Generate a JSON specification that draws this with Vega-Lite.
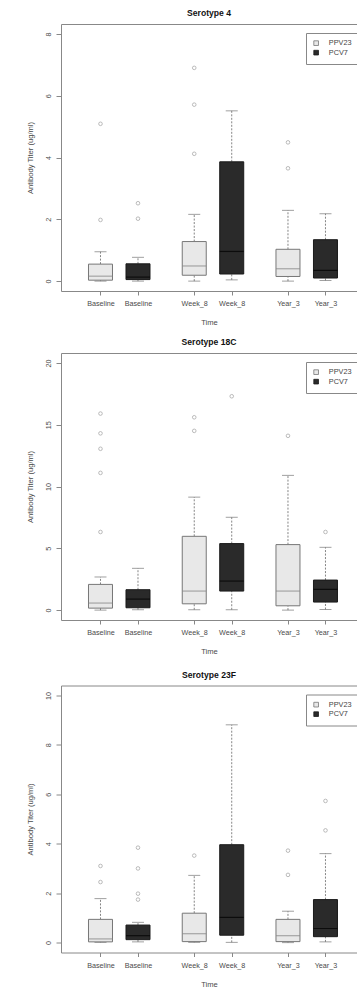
{
  "$schema": "https://vega.github.io/schema/vega-lite/v6.json",
  "padding": {"left": 26, "top": 9, "right": 0, "bottom": 0},
  "autosize": {"type": "pad"},
  "spacing": 11,
  "datasets": {
    "boxes": [
      {"Serotype": "4", "Time": "Baseline", "Vaccine": "PPV23", "Min": 0, "Q1": 0.03, "Median": 0.16, "Q3": 0.55, "Max": 0.95},
      {"Serotype": "4", "Time": "Baseline", "Vaccine": "PCV7", "Min": 0, "Q1": 0.05, "Median": 0.13, "Q3": 0.56, "Max": 0.77},
      {"Serotype": "4", "Time": "Week_8", "Vaccine": "PPV23", "Min": 0, "Q1": 0.19, "Median": 0.49, "Q3": 1.28, "Max": 2.16},
      {"Serotype": "4", "Time": "Week_8", "Vaccine": "PCV7", "Min": 0.04, "Q1": 0.23, "Median": 0.96, "Q3": 3.86, "Max": 5.51},
      {"Serotype": "4", "Time": "Year_3", "Vaccine": "PPV23", "Min": 0, "Q1": 0.15, "Median": 0.4, "Q3": 1.03, "Max": 2.29},
      {"Serotype": "4", "Time": "Year_3", "Vaccine": "PCV7", "Min": 0.02, "Q1": 0.1, "Median": 0.35, "Q3": 1.34, "Max": 2.18},
      {"Serotype": "18C", "Time": "Baseline", "Vaccine": "PPV23", "Min": 0, "Q1": 0.16, "Median": 0.57, "Q3": 2.08, "Max": 2.68},
      {"Serotype": "18C", "Time": "Baseline", "Vaccine": "PCV7", "Min": 0.03, "Q1": 0.19, "Median": 0.89, "Q3": 1.65, "Max": 3.38},
      {"Serotype": "18C", "Time": "Week_8", "Vaccine": "PPV23", "Min": 0.03, "Q1": 0.51, "Median": 1.54, "Q3": 5.97, "Max": 9.14},
      {"Serotype": "18C", "Time": "Week_8", "Vaccine": "PCV7", "Min": 0.03, "Q1": 1.54, "Median": 2.35, "Q3": 5.38, "Max": 7.51},
      {"Serotype": "18C", "Time": "Year_3", "Vaccine": "PPV23", "Min": 0, "Q1": 0.35, "Median": 1.54, "Q3": 5.3, "Max": 10.9},
      {"Serotype": "18C", "Time": "Year_3", "Vaccine": "PCV7", "Min": 0.05, "Q1": 0.65, "Median": 1.68, "Q3": 2.43, "Max": 5.08},
      {"Serotype": "23F", "Time": "Baseline", "Vaccine": "PPV23", "Min": 0.01, "Q1": 0.03, "Median": 0.15, "Q3": 0.94, "Max": 1.78},
      {"Serotype": "23F", "Time": "Baseline", "Vaccine": "PCV7", "Min": 0.03, "Q1": 0.12, "Median": 0.28, "Q3": 0.71, "Max": 0.82},
      {"Serotype": "23F", "Time": "Week_8", "Vaccine": "PPV23", "Min": 0.01, "Q1": 0.04, "Median": 0.36, "Q3": 1.19, "Max": 2.72},
      {"Serotype": "23F", "Time": "Week_8", "Vaccine": "PCV7", "Min": 0.01, "Q1": 0.3, "Median": 1.02, "Q3": 3.96, "Max": 8.81},
      {"Serotype": "23F", "Time": "Year_3", "Vaccine": "PPV23", "Min": 0, "Q1": 0.04, "Median": 0.28, "Q3": 0.94, "Max": 1.27},
      {"Serotype": "23F", "Time": "Year_3", "Vaccine": "PCV7", "Min": 0.03, "Q1": 0.24, "Median": 0.57, "Q3": 1.74, "Max": 3.6}
    ],
    "outliers": [
      {"Serotype": "4", "Time": "Baseline", "Vaccine": "PPV23", "Titer": 1.98},
      {"Serotype": "4", "Time": "Baseline", "Vaccine": "PPV23", "Titer": 5.09},
      {"Serotype": "4", "Time": "Baseline", "Vaccine": "PCV7", "Titer": 2.02},
      {"Serotype": "4", "Time": "Baseline", "Vaccine": "PCV7", "Titer": 2.52},
      {"Serotype": "4", "Time": "Week_8", "Vaccine": "PPV23", "Titer": 4.12},
      {"Serotype": "4", "Time": "Week_8", "Vaccine": "PPV23", "Titer": 5.71},
      {"Serotype": "4", "Time": "Week_8", "Vaccine": "PPV23", "Titer": 6.9},
      {"Serotype": "4", "Time": "Year_3", "Vaccine": "PPV23", "Titer": 3.65},
      {"Serotype": "4", "Time": "Year_3", "Vaccine": "PPV23", "Titer": 4.49},
      {"Serotype": "18C", "Time": "Baseline", "Vaccine": "PPV23", "Titer": 6.32},
      {"Serotype": "18C", "Time": "Baseline", "Vaccine": "PPV23", "Titer": 11.1},
      {"Serotype": "18C", "Time": "Baseline", "Vaccine": "PPV23", "Titer": 13.05},
      {"Serotype": "18C", "Time": "Baseline", "Vaccine": "PPV23", "Titer": 14.3},
      {"Serotype": "18C", "Time": "Baseline", "Vaccine": "PPV23", "Titer": 15.9},
      {"Serotype": "18C", "Time": "Week_8", "Vaccine": "PPV23", "Titer": 14.5},
      {"Serotype": "18C", "Time": "Week_8", "Vaccine": "PPV23", "Titer": 15.6},
      {"Serotype": "18C", "Time": "Week_8", "Vaccine": "PCV7", "Titer": 17.3},
      {"Serotype": "18C", "Time": "Year_3", "Vaccine": "PPV23", "Titer": 14.1},
      {"Serotype": "18C", "Time": "Year_3", "Vaccine": "PCV7", "Titer": 6.32},
      {"Serotype": "23F", "Time": "Baseline", "Vaccine": "PPV23", "Titer": 2.45},
      {"Serotype": "23F", "Time": "Baseline", "Vaccine": "PPV23", "Titer": 3.1},
      {"Serotype": "23F", "Time": "Baseline", "Vaccine": "PCV7", "Titer": 1.74},
      {"Serotype": "23F", "Time": "Baseline", "Vaccine": "PCV7", "Titer": 1.98},
      {"Serotype": "23F", "Time": "Baseline", "Vaccine": "PCV7", "Titer": 3.0},
      {"Serotype": "23F", "Time": "Baseline", "Vaccine": "PCV7", "Titer": 3.84},
      {"Serotype": "23F", "Time": "Week_8", "Vaccine": "PPV23", "Titer": 3.52},
      {"Serotype": "23F", "Time": "Year_3", "Vaccine": "PPV23", "Titer": 2.74},
      {"Serotype": "23F", "Time": "Year_3", "Vaccine": "PPV23", "Titer": 3.72},
      {"Serotype": "23F", "Time": "Year_3", "Vaccine": "PCV7", "Titer": 4.54},
      {"Serotype": "23F", "Time": "Year_3", "Vaccine": "PCV7", "Titer": 5.73}
    ]
  },
  "vconcat": [
    {
      "title": "Serotype 4",
      "width": 296, "height": 267,
      "data": {"name": "boxes"},
      "transform": [{"filter": "datum.Serotype === '4'"}],
      "resolve": {"axis": {"x": "independent"}},
      "layer": [
        {"mark": {"type": "rule", "color": "#777", "strokeDash": [2, 1.5], "strokeWidth": 0.9},
         "encoding": {
           "x": {"field": "Time", "type": "nominal", "scale": {"domain": ["Baseline", "Week_8", "Year_3"], "paddingInner": 0, "paddingOuter": 0.0787, "align": 0.77}, "axis": {"orient": "bottom", "title": "Time", "tickOffset": -18.75, "labelAngle": 0, "tickSize": 4, "labelPadding": 4.5, "titlePadding": 12, "domain": true}},
           "xOffset": {"field": "Vaccine", "type": "nominal", "scale": {"domain": ["PPV23", "PCV7"], "paddingInner": 0, "paddingOuter": 0.25}},
           "y": {"field": "Q3", "type": "quantitative", "scale": {"domain": [-0.32, 8.32], "nice": false, "zero": false}, "axis": {"title": "Antibody Titer (ug/ml)", "values": [0, 2, 4, 6, 8], "labelAngle": 270, "labelAlign": "center", "labelBaseline": "bottom", "tickSize": 5, "labelPadding": 4, "titlePadding": 10}},
           "y2": {"field": "Max"}}},
        {"mark": {"type": "rule", "color": "#777", "strokeDash": [2, 1.5], "strokeWidth": 0.9},
         "encoding": {
           "x": {"field": "Time", "type": "nominal", "scale": {"domain": ["Baseline", "Week_8", "Year_3"], "paddingInner": 0, "paddingOuter": 0.0787, "align": 0.77}, "axis": {"orient": "bottom", "title": null, "tickOffset": 18.75, "labelAngle": 0, "tickSize": 4, "labelPadding": 4.5, "domain": false}},
           "xOffset": {"field": "Vaccine", "type": "nominal", "scale": {"domain": ["PPV23", "PCV7"], "paddingInner": 0, "paddingOuter": 0.25}},
           "y": {"field": "Min", "type": "quantitative", "scale": {"domain": [-0.32, 8.32], "nice": false, "zero": false}, "axis": {"title": "Antibody Titer (ug/ml)", "values": [0, 2, 4, 6, 8], "labelAngle": 270, "labelAlign": "center", "labelBaseline": "bottom", "tickSize": 5, "labelPadding": 4, "titlePadding": 10}},
           "y2": {"field": "Q1"}}},
        {"mark": {"type": "tick", "orient": "horizontal", "size": 12, "thickness": 1, "color": "#777"},
         "encoding": {
           "x": {"field": "Time", "type": "nominal", "scale": {"domain": ["Baseline", "Week_8", "Year_3"], "paddingInner": 0, "paddingOuter": 0.0787, "align": 0.77}, "axis": {"orient": "top", "title": null, "labels": false, "ticks": false, "domain": true}},
           "xOffset": {"field": "Vaccine", "type": "nominal", "scale": {"domain": ["PPV23", "PCV7"], "paddingInner": 0, "paddingOuter": 0.25}},
           "y": {"field": "Max", "type": "quantitative", "scale": {"domain": [-0.32, 8.32], "nice": false, "zero": false}, "axis": {"title": "Antibody Titer (ug/ml)", "values": [0, 2, 4, 6, 8], "labelAngle": 270, "labelAlign": "center", "labelBaseline": "bottom", "tickSize": 5, "labelPadding": 4, "titlePadding": 10}}}},
        {"mark": {"type": "tick", "orient": "horizontal", "size": 12, "thickness": 1, "color": "#777"},
         "encoding": {
           "x": {"field": "Time", "type": "nominal", "scale": {"domain": ["Baseline", "Week_8", "Year_3"], "paddingInner": 0, "paddingOuter": 0.0787, "align": 0.77}, "axis": null},
           "xOffset": {"field": "Vaccine", "type": "nominal", "scale": {"domain": ["PPV23", "PCV7"], "paddingInner": 0, "paddingOuter": 0.25}},
           "y": {"field": "Min", "type": "quantitative", "scale": {"domain": [-0.32, 8.32], "nice": false, "zero": false}, "axis": {"title": "Antibody Titer (ug/ml)", "values": [0, 2, 4, 6, 8], "labelAngle": 270, "labelAlign": "center", "labelBaseline": "bottom", "tickSize": 5, "labelPadding": 4, "titlePadding": 10}}}},
        {"mark": {"type": "bar", "width": 24, "strokeWidth": 1},
         "encoding": {
           "x": {"field": "Time", "type": "nominal", "scale": {"domain": ["Baseline", "Week_8", "Year_3"], "paddingInner": 0, "paddingOuter": 0.0787, "align": 0.77}, "axis": null},
           "xOffset": {"field": "Vaccine", "type": "nominal", "scale": {"domain": ["PPV23", "PCV7"], "paddingInner": 0, "paddingOuter": 0.25}},
           "y": {"field": "Q1", "type": "quantitative", "scale": {"domain": [-0.32, 8.32], "nice": false, "zero": false}, "axis": {"title": "Antibody Titer (ug/ml)", "values": [0, 2, 4, 6, 8], "labelAngle": 270, "labelAlign": "center", "labelBaseline": "bottom", "tickSize": 5, "labelPadding": 4, "titlePadding": 10}},
           "y2": {"field": "Q3"},
           "fill": {"field": "Vaccine", "type": "nominal", "scale": {"domain": ["PPV23", "PCV7"], "range": ["#e8e8e8", "#2a2a2a"]}, "legend": {"title": null, "orient": "none", "legendX": 245, "legendY": 9, "symbolType": "square", "symbolSize": 22, "symbolStrokeColor": "#444", "symbolStrokeWidth": 0.8, "labelFontSize": 7.3, "labelColor": "#444", "labelOffset": 9, "padding": 6.5, "rowPadding": 0.5, "strokeColor": "#888", "fillColor": "white"}},
           "stroke": {"field": "Vaccine", "type": "nominal", "scale": {"domain": ["PPV23", "PCV7"], "range": ["#777", "#1a1a1a"]}, "legend": null}}},
        {"mark": {"type": "tick", "orient": "horizontal", "size": 24, "thickness": 1.2},
         "encoding": {
           "x": {"field": "Time", "type": "nominal", "scale": {"domain": ["Baseline", "Week_8", "Year_3"], "paddingInner": 0, "paddingOuter": 0.0787, "align": 0.77}, "axis": null},
           "xOffset": {"field": "Vaccine", "type": "nominal", "scale": {"domain": ["PPV23", "PCV7"], "paddingInner": 0, "paddingOuter": 0.25}},
           "y": {"field": "Median", "type": "quantitative", "scale": {"domain": [-0.32, 8.32], "nice": false, "zero": false}, "axis": {"title": "Antibody Titer (ug/ml)", "values": [0, 2, 4, 6, 8], "labelAngle": 270, "labelAlign": "center", "labelBaseline": "bottom", "tickSize": 5, "labelPadding": 4, "titlePadding": 10}},
           "color": {"field": "Vaccine", "type": "nominal", "scale": {"domain": ["PPV23", "PCV7"], "range": ["#888", "#000"]}, "legend": null}}},
        {"data": {"name": "outliers"},
         "transform": [{"filter": "datum.Serotype === '4'"}],
         "mark": {"type": "point", "shape": "circle", "filled": false, "size": 13, "strokeWidth": 0.8, "color": "#888"},
         "encoding": {
           "x": {"field": "Time", "type": "nominal", "scale": {"domain": ["Baseline", "Week_8", "Year_3"], "paddingInner": 0, "paddingOuter": 0.0787, "align": 0.77}, "axis": null},
           "xOffset": {"field": "Vaccine", "type": "nominal", "scale": {"domain": ["PPV23", "PCV7"], "paddingInner": 0, "paddingOuter": 0.25}},
           "y": {"field": "Titer", "type": "quantitative", "scale": {"domain": [-0.32, 8.32], "nice": false, "zero": false}, "axis": {"title": "Antibody Titer (ug/ml)", "values": [0, 2, 4, 6, 8], "labelAngle": 270, "labelAlign": "center", "labelBaseline": "bottom", "tickSize": 5, "labelPadding": 4, "titlePadding": 10}}}}
      ]
    },
    {
      "spacing": 14.5,
      "resolve": {"scale": {"y": "independent", "fill": "independent", "stroke": "independent", "color": "independent"}, "legend": {"fill": "independent"}},
      "vconcat": [
    {
      "title": "Serotype 18C",
      "width": 296, "height": 267,
      "data": {"name": "boxes"},
      "transform": [{"filter": "datum.Serotype === '18C'"}],
      "resolve": {"axis": {"x": "independent"}},
      "layer": [
        {"mark": {"type": "rule", "color": "#777", "strokeDash": [2, 1.5], "strokeWidth": 0.9},
         "encoding": {
           "x": {"field": "Time", "type": "nominal", "scale": {"domain": ["Baseline", "Week_8", "Year_3"], "paddingInner": 0, "paddingOuter": 0.0787, "align": 0.77}, "axis": {"orient": "bottom", "title": "Time", "tickOffset": -18.75, "labelAngle": 0, "tickSize": 4, "labelPadding": 4.5, "titlePadding": 12, "domain": true}},
           "xOffset": {"field": "Vaccine", "type": "nominal", "scale": {"domain": ["PPV23", "PCV7"], "paddingInner": 0, "paddingOuter": 0.25}},
           "y": {"field": "Q3", "type": "quantitative", "scale": {"domain": [-0.8, 20.8], "nice": false, "zero": false}, "axis": {"title": "Antibody Titer (ug/ml)", "values": [0, 5, 10, 15, 20], "labelAngle": 270, "labelAlign": "center", "labelBaseline": "bottom", "tickSize": 5, "labelPadding": 4, "titlePadding": 10}},
           "y2": {"field": "Max"}}},
        {"mark": {"type": "rule", "color": "#777", "strokeDash": [2, 1.5], "strokeWidth": 0.9},
         "encoding": {
           "x": {"field": "Time", "type": "nominal", "scale": {"domain": ["Baseline", "Week_8", "Year_3"], "paddingInner": 0, "paddingOuter": 0.0787, "align": 0.77}, "axis": {"orient": "bottom", "title": null, "tickOffset": 18.75, "labelAngle": 0, "tickSize": 4, "labelPadding": 4.5, "domain": false}},
           "xOffset": {"field": "Vaccine", "type": "nominal", "scale": {"domain": ["PPV23", "PCV7"], "paddingInner": 0, "paddingOuter": 0.25}},
           "y": {"field": "Min", "type": "quantitative", "scale": {"domain": [-0.8, 20.8], "nice": false, "zero": false}, "axis": {"title": "Antibody Titer (ug/ml)", "values": [0, 5, 10, 15, 20], "labelAngle": 270, "labelAlign": "center", "labelBaseline": "bottom", "tickSize": 5, "labelPadding": 4, "titlePadding": 10}},
           "y2": {"field": "Q1"}}},
        {"mark": {"type": "tick", "orient": "horizontal", "size": 12, "thickness": 1, "color": "#777"},
         "encoding": {
           "x": {"field": "Time", "type": "nominal", "scale": {"domain": ["Baseline", "Week_8", "Year_3"], "paddingInner": 0, "paddingOuter": 0.0787, "align": 0.77}, "axis": {"orient": "top", "title": null, "labels": false, "ticks": false, "domain": true}},
           "xOffset": {"field": "Vaccine", "type": "nominal", "scale": {"domain": ["PPV23", "PCV7"], "paddingInner": 0, "paddingOuter": 0.25}},
           "y": {"field": "Max", "type": "quantitative", "scale": {"domain": [-0.8, 20.8], "nice": false, "zero": false}, "axis": {"title": "Antibody Titer (ug/ml)", "values": [0, 5, 10, 15, 20], "labelAngle": 270, "labelAlign": "center", "labelBaseline": "bottom", "tickSize": 5, "labelPadding": 4, "titlePadding": 10}}}},
        {"mark": {"type": "tick", "orient": "horizontal", "size": 12, "thickness": 1, "color": "#777"},
         "encoding": {
           "x": {"field": "Time", "type": "nominal", "scale": {"domain": ["Baseline", "Week_8", "Year_3"], "paddingInner": 0, "paddingOuter": 0.0787, "align": 0.77}, "axis": null},
           "xOffset": {"field": "Vaccine", "type": "nominal", "scale": {"domain": ["PPV23", "PCV7"], "paddingInner": 0, "paddingOuter": 0.25}},
           "y": {"field": "Min", "type": "quantitative", "scale": {"domain": [-0.8, 20.8], "nice": false, "zero": false}, "axis": {"title": "Antibody Titer (ug/ml)", "values": [0, 5, 10, 15, 20], "labelAngle": 270, "labelAlign": "center", "labelBaseline": "bottom", "tickSize": 5, "labelPadding": 4, "titlePadding": 10}}}},
        {"mark": {"type": "bar", "width": 24, "strokeWidth": 1},
         "encoding": {
           "x": {"field": "Time", "type": "nominal", "scale": {"domain": ["Baseline", "Week_8", "Year_3"], "paddingInner": 0, "paddingOuter": 0.0787, "align": 0.77}, "axis": null},
           "xOffset": {"field": "Vaccine", "type": "nominal", "scale": {"domain": ["PPV23", "PCV7"], "paddingInner": 0, "paddingOuter": 0.25}},
           "y": {"field": "Q1", "type": "quantitative", "scale": {"domain": [-0.8, 20.8], "nice": false, "zero": false}, "axis": {"title": "Antibody Titer (ug/ml)", "values": [0, 5, 10, 15, 20], "labelAngle": 270, "labelAlign": "center", "labelBaseline": "bottom", "tickSize": 5, "labelPadding": 4, "titlePadding": 10}},
           "y2": {"field": "Q3"},
           "fill": {"field": "Vaccine", "type": "nominal", "scale": {"domain": ["PPV23", "PCV7"], "range": ["#e8e8e8", "#2a2a2a"]}, "legend": {"title": null, "orient": "none", "legendX": 245, "legendY": 9, "symbolType": "square", "symbolSize": 22, "symbolStrokeColor": "#444", "symbolStrokeWidth": 0.8, "labelFontSize": 7.3, "labelColor": "#444", "labelOffset": 9, "padding": 6.5, "rowPadding": 0.5, "strokeColor": "#888", "fillColor": "white"}},
           "stroke": {"field": "Vaccine", "type": "nominal", "scale": {"domain": ["PPV23", "PCV7"], "range": ["#777", "#1a1a1a"]}, "legend": null}}},
        {"mark": {"type": "tick", "orient": "horizontal", "size": 24, "thickness": 1.2},
         "encoding": {
           "x": {"field": "Time", "type": "nominal", "scale": {"domain": ["Baseline", "Week_8", "Year_3"], "paddingInner": 0, "paddingOuter": 0.0787, "align": 0.77}, "axis": null},
           "xOffset": {"field": "Vaccine", "type": "nominal", "scale": {"domain": ["PPV23", "PCV7"], "paddingInner": 0, "paddingOuter": 0.25}},
           "y": {"field": "Median", "type": "quantitative", "scale": {"domain": [-0.8, 20.8], "nice": false, "zero": false}, "axis": {"title": "Antibody Titer (ug/ml)", "values": [0, 5, 10, 15, 20], "labelAngle": 270, "labelAlign": "center", "labelBaseline": "bottom", "tickSize": 5, "labelPadding": 4, "titlePadding": 10}},
           "color": {"field": "Vaccine", "type": "nominal", "scale": {"domain": ["PPV23", "PCV7"], "range": ["#888", "#000"]}, "legend": null}}},
        {"data": {"name": "outliers"},
         "transform": [{"filter": "datum.Serotype === '18C'"}],
         "mark": {"type": "point", "shape": "circle", "filled": false, "size": 13, "strokeWidth": 0.8, "color": "#888"},
         "encoding": {
           "x": {"field": "Time", "type": "nominal", "scale": {"domain": ["Baseline", "Week_8", "Year_3"], "paddingInner": 0, "paddingOuter": 0.0787, "align": 0.77}, "axis": null},
           "xOffset": {"field": "Vaccine", "type": "nominal", "scale": {"domain": ["PPV23", "PCV7"], "paddingInner": 0, "paddingOuter": 0.25}},
           "y": {"field": "Titer", "type": "quantitative", "scale": {"domain": [-0.8, 20.8], "nice": false, "zero": false}, "axis": {"title": "Antibody Titer (ug/ml)", "values": [0, 5, 10, 15, 20], "labelAngle": 270, "labelAlign": "center", "labelBaseline": "bottom", "tickSize": 5, "labelPadding": 4, "titlePadding": 10}}}}
      ]
    },
    {
      "title": "Serotype 23F",
      "width": 296, "height": 267,
      "data": {"name": "boxes"},
      "transform": [{"filter": "datum.Serotype === '23F'"}],
      "resolve": {"axis": {"x": "independent"}},
      "layer": [
        {"mark": {"type": "rule", "color": "#777", "strokeDash": [2, 1.5], "strokeWidth": 0.9},
         "encoding": {
           "x": {"field": "Time", "type": "nominal", "scale": {"domain": ["Baseline", "Week_8", "Year_3"], "paddingInner": 0, "paddingOuter": 0.0787, "align": 0.77}, "axis": {"orient": "bottom", "title": "Time", "tickOffset": -18.75, "labelAngle": 0, "tickSize": 4, "labelPadding": 4.5, "titlePadding": 12, "domain": true}},
           "xOffset": {"field": "Vaccine", "type": "nominal", "scale": {"domain": ["PPV23", "PCV7"], "paddingInner": 0, "paddingOuter": 0.25}},
           "y": {"field": "Q3", "type": "quantitative", "scale": {"domain": [-0.4, 10.4], "nice": false, "zero": false}, "axis": {"title": "Antibody Titer (ug/ml)", "values": [0, 2, 4, 6, 8, 10], "labelAngle": 270, "labelAlign": "center", "labelBaseline": "bottom", "tickSize": 5, "labelPadding": 4, "titlePadding": 10}},
           "y2": {"field": "Max"}}},
        {"mark": {"type": "rule", "color": "#777", "strokeDash": [2, 1.5], "strokeWidth": 0.9},
         "encoding": {
           "x": {"field": "Time", "type": "nominal", "scale": {"domain": ["Baseline", "Week_8", "Year_3"], "paddingInner": 0, "paddingOuter": 0.0787, "align": 0.77}, "axis": {"orient": "bottom", "title": null, "tickOffset": 18.75, "labelAngle": 0, "tickSize": 4, "labelPadding": 4.5, "domain": false}},
           "xOffset": {"field": "Vaccine", "type": "nominal", "scale": {"domain": ["PPV23", "PCV7"], "paddingInner": 0, "paddingOuter": 0.25}},
           "y": {"field": "Min", "type": "quantitative", "scale": {"domain": [-0.4, 10.4], "nice": false, "zero": false}, "axis": {"title": "Antibody Titer (ug/ml)", "values": [0, 2, 4, 6, 8, 10], "labelAngle": 270, "labelAlign": "center", "labelBaseline": "bottom", "tickSize": 5, "labelPadding": 4, "titlePadding": 10}},
           "y2": {"field": "Q1"}}},
        {"mark": {"type": "tick", "orient": "horizontal", "size": 12, "thickness": 1, "color": "#777"},
         "encoding": {
           "x": {"field": "Time", "type": "nominal", "scale": {"domain": ["Baseline", "Week_8", "Year_3"], "paddingInner": 0, "paddingOuter": 0.0787, "align": 0.77}, "axis": {"orient": "top", "title": null, "labels": false, "ticks": false, "domain": true}},
           "xOffset": {"field": "Vaccine", "type": "nominal", "scale": {"domain": ["PPV23", "PCV7"], "paddingInner": 0, "paddingOuter": 0.25}},
           "y": {"field": "Max", "type": "quantitative", "scale": {"domain": [-0.4, 10.4], "nice": false, "zero": false}, "axis": {"title": "Antibody Titer (ug/ml)", "values": [0, 2, 4, 6, 8, 10], "labelAngle": 270, "labelAlign": "center", "labelBaseline": "bottom", "tickSize": 5, "labelPadding": 4, "titlePadding": 10}}}},
        {"mark": {"type": "tick", "orient": "horizontal", "size": 12, "thickness": 1, "color": "#777"},
         "encoding": {
           "x": {"field": "Time", "type": "nominal", "scale": {"domain": ["Baseline", "Week_8", "Year_3"], "paddingInner": 0, "paddingOuter": 0.0787, "align": 0.77}, "axis": null},
           "xOffset": {"field": "Vaccine", "type": "nominal", "scale": {"domain": ["PPV23", "PCV7"], "paddingInner": 0, "paddingOuter": 0.25}},
           "y": {"field": "Min", "type": "quantitative", "scale": {"domain": [-0.4, 10.4], "nice": false, "zero": false}, "axis": {"title": "Antibody Titer (ug/ml)", "values": [0, 2, 4, 6, 8, 10], "labelAngle": 270, "labelAlign": "center", "labelBaseline": "bottom", "tickSize": 5, "labelPadding": 4, "titlePadding": 10}}}},
        {"mark": {"type": "bar", "width": 24, "strokeWidth": 1},
         "encoding": {
           "x": {"field": "Time", "type": "nominal", "scale": {"domain": ["Baseline", "Week_8", "Year_3"], "paddingInner": 0, "paddingOuter": 0.0787, "align": 0.77}, "axis": null},
           "xOffset": {"field": "Vaccine", "type": "nominal", "scale": {"domain": ["PPV23", "PCV7"], "paddingInner": 0, "paddingOuter": 0.25}},
           "y": {"field": "Q1", "type": "quantitative", "scale": {"domain": [-0.4, 10.4], "nice": false, "zero": false}, "axis": {"title": "Antibody Titer (ug/ml)", "values": [0, 2, 4, 6, 8, 10], "labelAngle": 270, "labelAlign": "center", "labelBaseline": "bottom", "tickSize": 5, "labelPadding": 4, "titlePadding": 10}},
           "y2": {"field": "Q3"},
           "fill": {"field": "Vaccine", "type": "nominal", "scale": {"domain": ["PPV23", "PCV7"], "range": ["#e8e8e8", "#2a2a2a"]}, "legend": {"title": null, "orient": "none", "legendX": 245, "legendY": 9, "symbolType": "square", "symbolSize": 22, "symbolStrokeColor": "#444", "symbolStrokeWidth": 0.8, "labelFontSize": 7.3, "labelColor": "#444", "labelOffset": 9, "padding": 6.5, "rowPadding": 0.5, "strokeColor": "#888", "fillColor": "white"}},
           "stroke": {"field": "Vaccine", "type": "nominal", "scale": {"domain": ["PPV23", "PCV7"], "range": ["#777", "#1a1a1a"]}, "legend": null}}},
        {"mark": {"type": "tick", "orient": "horizontal", "size": 24, "thickness": 1.2},
         "encoding": {
           "x": {"field": "Time", "type": "nominal", "scale": {"domain": ["Baseline", "Week_8", "Year_3"], "paddingInner": 0, "paddingOuter": 0.0787, "align": 0.77}, "axis": null},
           "xOffset": {"field": "Vaccine", "type": "nominal", "scale": {"domain": ["PPV23", "PCV7"], "paddingInner": 0, "paddingOuter": 0.25}},
           "y": {"field": "Median", "type": "quantitative", "scale": {"domain": [-0.4, 10.4], "nice": false, "zero": false}, "axis": {"title": "Antibody Titer (ug/ml)", "values": [0, 2, 4, 6, 8, 10], "labelAngle": 270, "labelAlign": "center", "labelBaseline": "bottom", "tickSize": 5, "labelPadding": 4, "titlePadding": 10}},
           "color": {"field": "Vaccine", "type": "nominal", "scale": {"domain": ["PPV23", "PCV7"], "range": ["#888", "#000"]}, "legend": null}}},
        {"data": {"name": "outliers"},
         "transform": [{"filter": "datum.Serotype === '23F'"}],
         "mark": {"type": "point", "shape": "circle", "filled": false, "size": 13, "strokeWidth": 0.8, "color": "#888"},
         "encoding": {
           "x": {"field": "Time", "type": "nominal", "scale": {"domain": ["Baseline", "Week_8", "Year_3"], "paddingInner": 0, "paddingOuter": 0.0787, "align": 0.77}, "axis": null},
           "xOffset": {"field": "Vaccine", "type": "nominal", "scale": {"domain": ["PPV23", "PCV7"], "paddingInner": 0, "paddingOuter": 0.25}},
           "y": {"field": "Titer", "type": "quantitative", "scale": {"domain": [-0.4, 10.4], "nice": false, "zero": false}, "axis": {"title": "Antibody Titer (ug/ml)", "values": [0, 2, 4, 6, 8, 10], "labelAngle": 270, "labelAlign": "center", "labelBaseline": "bottom", "tickSize": 5, "labelPadding": 4, "titlePadding": 10}}}}
      ]
    }
      ]
    }
  ],
  "resolve": {"scale": {"y": "independent", "fill": "independent", "stroke": "independent", "color": "independent"}, "legend": {"fill": "independent"}},
  "config": {
    "font": "Liberation Sans",
    "view": {"stroke": null},
    "axis": {"domainColor": "#888", "tickColor": "#888", "labelColor": "#4a4a4a", "titleColor": "#4a4a4a", "labelFont": "Liberation Sans", "titleFont": "Liberation Sans", "titleFontWeight": "normal", "labelFontSize": 7.2, "titleFontSize": 7.6, "grid": false},
    "title": {"fontSize": 8.6, "fontWeight": "bold", "color": "#111", "anchor": "middle", "offset": 6, "font": "Liberation Sans"}
  }
}
